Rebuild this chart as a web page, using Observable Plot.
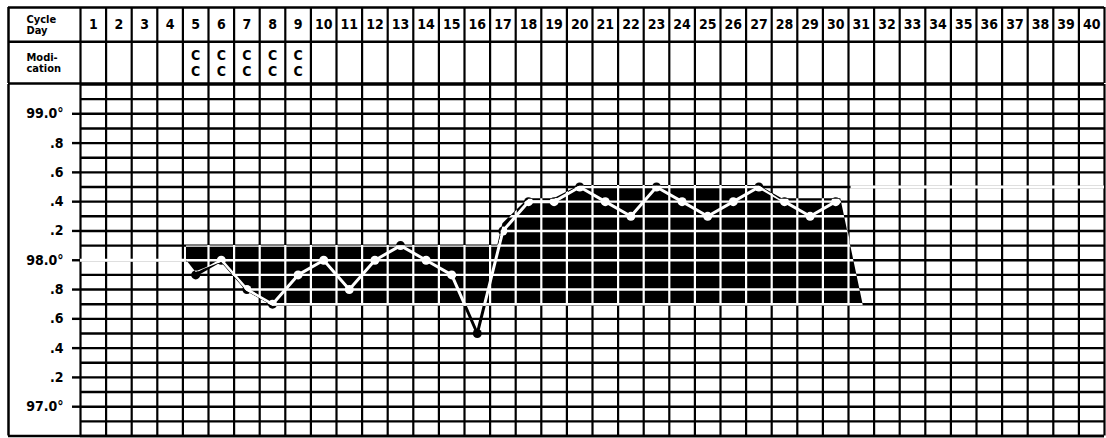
<!DOCTYPE html>
<html>
<head>
<meta charset="utf-8">
<script src="https://cdn.jsdelivr.net/npm/d3@7"></script>
<script src="https://cdn.jsdelivr.net/npm/@observablehq/plot@0.6"></script>
<style>
  body { margin: 0; background: #fff; }
  #chart svg { display: block; }
</style>
</head>
<body>
<div id="chart"></div>
<script>
// Basal body temperature chart: one cycle, clomiphene on days 5-9.
const cycleDays = [1, 2, 3, 4, 5, 6, 7, 8, 9, 10, 11, 12, 13, 14, 15, 16, 17, 18, 19, 20,
                   21, 22, 23, 24, 25, 26, 27, 28, 29, 30, 31, 32, 33, 34, 35, 36, 37, 38, 39, 40];
const clomidDays = [5, 6, 7, 8, 9];
const clomidMark = "C\nC";

const tempDays   = [5, 6, 7, 8, 9, 10, 11, 12, 13, 14, 15, 16, 17, 18, 19, 20, 21, 22, 23, 24, 25, 26, 27, 28, 29, 30];
const tempValues = [97.9, 98.0, 97.8, 97.7, 97.9, 98.0, 97.8, 98.0, 98.1, 98.0, 97.9, 97.5, 98.2,
                    98.4, 98.4, 98.5, 98.4, 98.3, 98.5, 98.4, 98.3, 98.4, 98.5, 98.4, 98.3, 98.4];

const tempTicks      = [97.0, 97.2, 97.4, 97.6, 97.8, 98.0, 98.2, 98.4, 98.6, 98.8, 99.0];
const tempTickLabels = ["97.0°", ".2", ".4", ".6", ".8", "98.0°", ".2", ".4", ".6", ".8", "99.0°"];

// Shaded low and high phases, as upper and lower edge at each break point.
const bandDays   = [4.64, 5, 6, 7, 8, 16.8, 17, 18, 19, 20, 27, 27.8, 30.2, 31.08];
const bandTop    = [98.1, 98.1, 98.1, 98.1, 98.1, 98.1, 98.25, 98.42, 98.42, 98.51, 98.51, 98.42, 98.42, 97.69];
const bandBottom = [98.0, 97.92, 97.99, 97.79, 97.69, 97.69, 97.69, 97.69, 97.69, 97.69, 97.69, 97.69, 97.69, 97.69];

// Grid lines left out of the printed form next to the shaded phases.
const gapTemps = [98.0, 98.5];
const gapFrom  = [0.5, 30.6];
const gapTo    = [4.64, 40.5];

const W = 1106, ML = 80, MR = 2;
const colWidth = (W - ML - MR) / 40;
const leftEdge = 0.5 - (ML - 8) / colWidth;          // outer border of the label column
const columnEdges = d3.range(0.5, 41, 1);
const gridTemps = d3.range(968, 993).map(t => t / 10);
const FONT = `"Liberation Sans Narrow", "DejaVu Sans Condensed", "Arial Narrow", sans-serif`;

const temps = tempDays.map((day, i) => ({day, temp: tempValues[i]}));
const band = bandDays.map((day, i) => ({day, top: bandTop[i], bottom: bandBottom[i]}));
const gaps = gapTemps.map((temp, i) => ({temp, from: gapFrom[i], to: gapTo[i]}));
const tickLabel = new Map(tempTicks.map((t, i) => [t, tempTickLabels[i]]));

const headerRows = [
  {label: "Cycle\nDay", top: 0, bottom: 0.9},
  {label: "Modi-\ncation", top: 0.9, bottom: 2}
];
const rowMid = r => (r.top + r.bottom) / 2;

const header = Plot.plot({
  width: W, height: 84,
  marginLeft: ML, marginRight: MR, marginTop: 7, marginBottom: 1,
  x: {domain: [0.5, 40.5], axis: null},
  y: {domain: [2, 0], axis: null},
  style: {fontFamily: FONT, background: "white", overflow: "visible"},
  marks: [
    Plot.ruleX(columnEdges, {x: d => d, stroke: "black", strokeWidth: 2.2}),
    Plot.ruleX([leftEdge], {x: d => d, stroke: "black", strokeWidth: 2.5}),
    Plot.ruleY([0, 0.9, 2], {y: d => d, x1: leftEdge, x2: 40.5, stroke: "black", strokeWidth: 2.6}),
    Plot.text(headerRows, {
      x: () => leftEdge, y: rowMid, text: "label",
      textAnchor: "start", dx: 18, fontSize: 11, fontWeight: "bold", lineHeight: 1.05
    }),
    Plot.text(cycleDays, {
      x: d => d, y: () => rowMid(headerRows[0]), text: d => String(d),
      fontSize: 14, fontWeight: "bold"
    }),
    Plot.text(clomidDays, {
      x: d => d, y: () => rowMid(headerRows[1]), text: () => clomidMark,
      fontSize: 14, fontWeight: "bold", lineHeight: 1.15
    })
  ]
});

// The shaded phases are solid black; grid and curve show through them in white.
let bandGroup = null;
const keepBand = (index, scales, values, dims, context, next) =>
  (bandGroup = next(index, scales, values, dims, context));
const clipToBand = (index, scales, values, dims, context, next) => {
  const g = next(index, scales, values, dims, context);
  g.setAttribute("clip-path", "url(#phase-clip)");
  return g;
};

const chart = Plot.plot({
  width: W, height: 354,
  marginLeft: ML, marginRight: MR, marginTop: 0, marginBottom: 2.5,
  x: {domain: [0.5, 40.5], axis: null},
  y: {domain: [96.8, 99.2]},
  style: {fontFamily: FONT, background: "white", overflow: "visible"},
  marks: [
    Plot.frame({fill: "white", stroke: "none"}),
    Plot.ruleY(gridTemps, {y: d => d, stroke: "black", strokeWidth: 2.4}),
    Plot.ruleX(columnEdges, {x: d => d, stroke: "black", strokeWidth: 2.2}),
    Plot.ruleY(gaps, {y: "temp", x1: "from", x2: "to", stroke: "white", strokeWidth: 3.2}),
    Plot.axisY(tempTicks, {
      tickSize: 8, tickPadding: 9, tickFormat: d => tickLabel.get(d),
      fontSize: 14, fontWeight: "bold", strokeWidth: 2.4, label: null
    }),
    Plot.line(temps, {x: "day", y: "temp", stroke: "black", strokeWidth: 3}),
    Plot.dot(temps, {x: "day", y: "temp", r: 4.5, fill: "black", stroke: "none"}),
    Plot.areaY(band, {x: "day", y1: "bottom", y2: "top", fill: "black", render: keepBand}),
    Plot.ruleY(gridTemps, {y: d => d, stroke: "white", strokeWidth: 2.4, render: clipToBand}),
    Plot.ruleX(columnEdges, {x: d => d, stroke: "white", strokeWidth: 2.2, render: clipToBand}),
    Plot.line(temps, {x: "day", y: "temp", stroke: "white", strokeWidth: 3, render: clipToBand}),
    Plot.dot(temps, {x: "day", y: "temp", r: 4.5, fill: "white", stroke: "none", render: clipToBand}),
    Plot.ruleX([leftEdge], {x: d => d, stroke: "black", strokeWidth: 2.5}),
    Plot.ruleY([96.8], {y: d => d, x1: leftEdge, x2: 40.5, stroke: "black", strokeWidth: 2.6})
  ]
});

// Build the clip region from the rendered band outline.
const svgNS = "http://www.w3.org/2000/svg";
const bandPath = bandGroup && bandGroup.querySelector("path");
const defs = document.createElementNS(svgNS, "defs");
const clip = document.createElementNS(svgNS, "clipPath");
clip.setAttribute("id", "phase-clip");
if (bandPath) clip.appendChild(bandPath.cloneNode());
defs.appendChild(clip);
chart.insertBefore(defs, chart.firstChild);

document.getElementById("chart").append(header, chart);
</script>
</body>
</html>
